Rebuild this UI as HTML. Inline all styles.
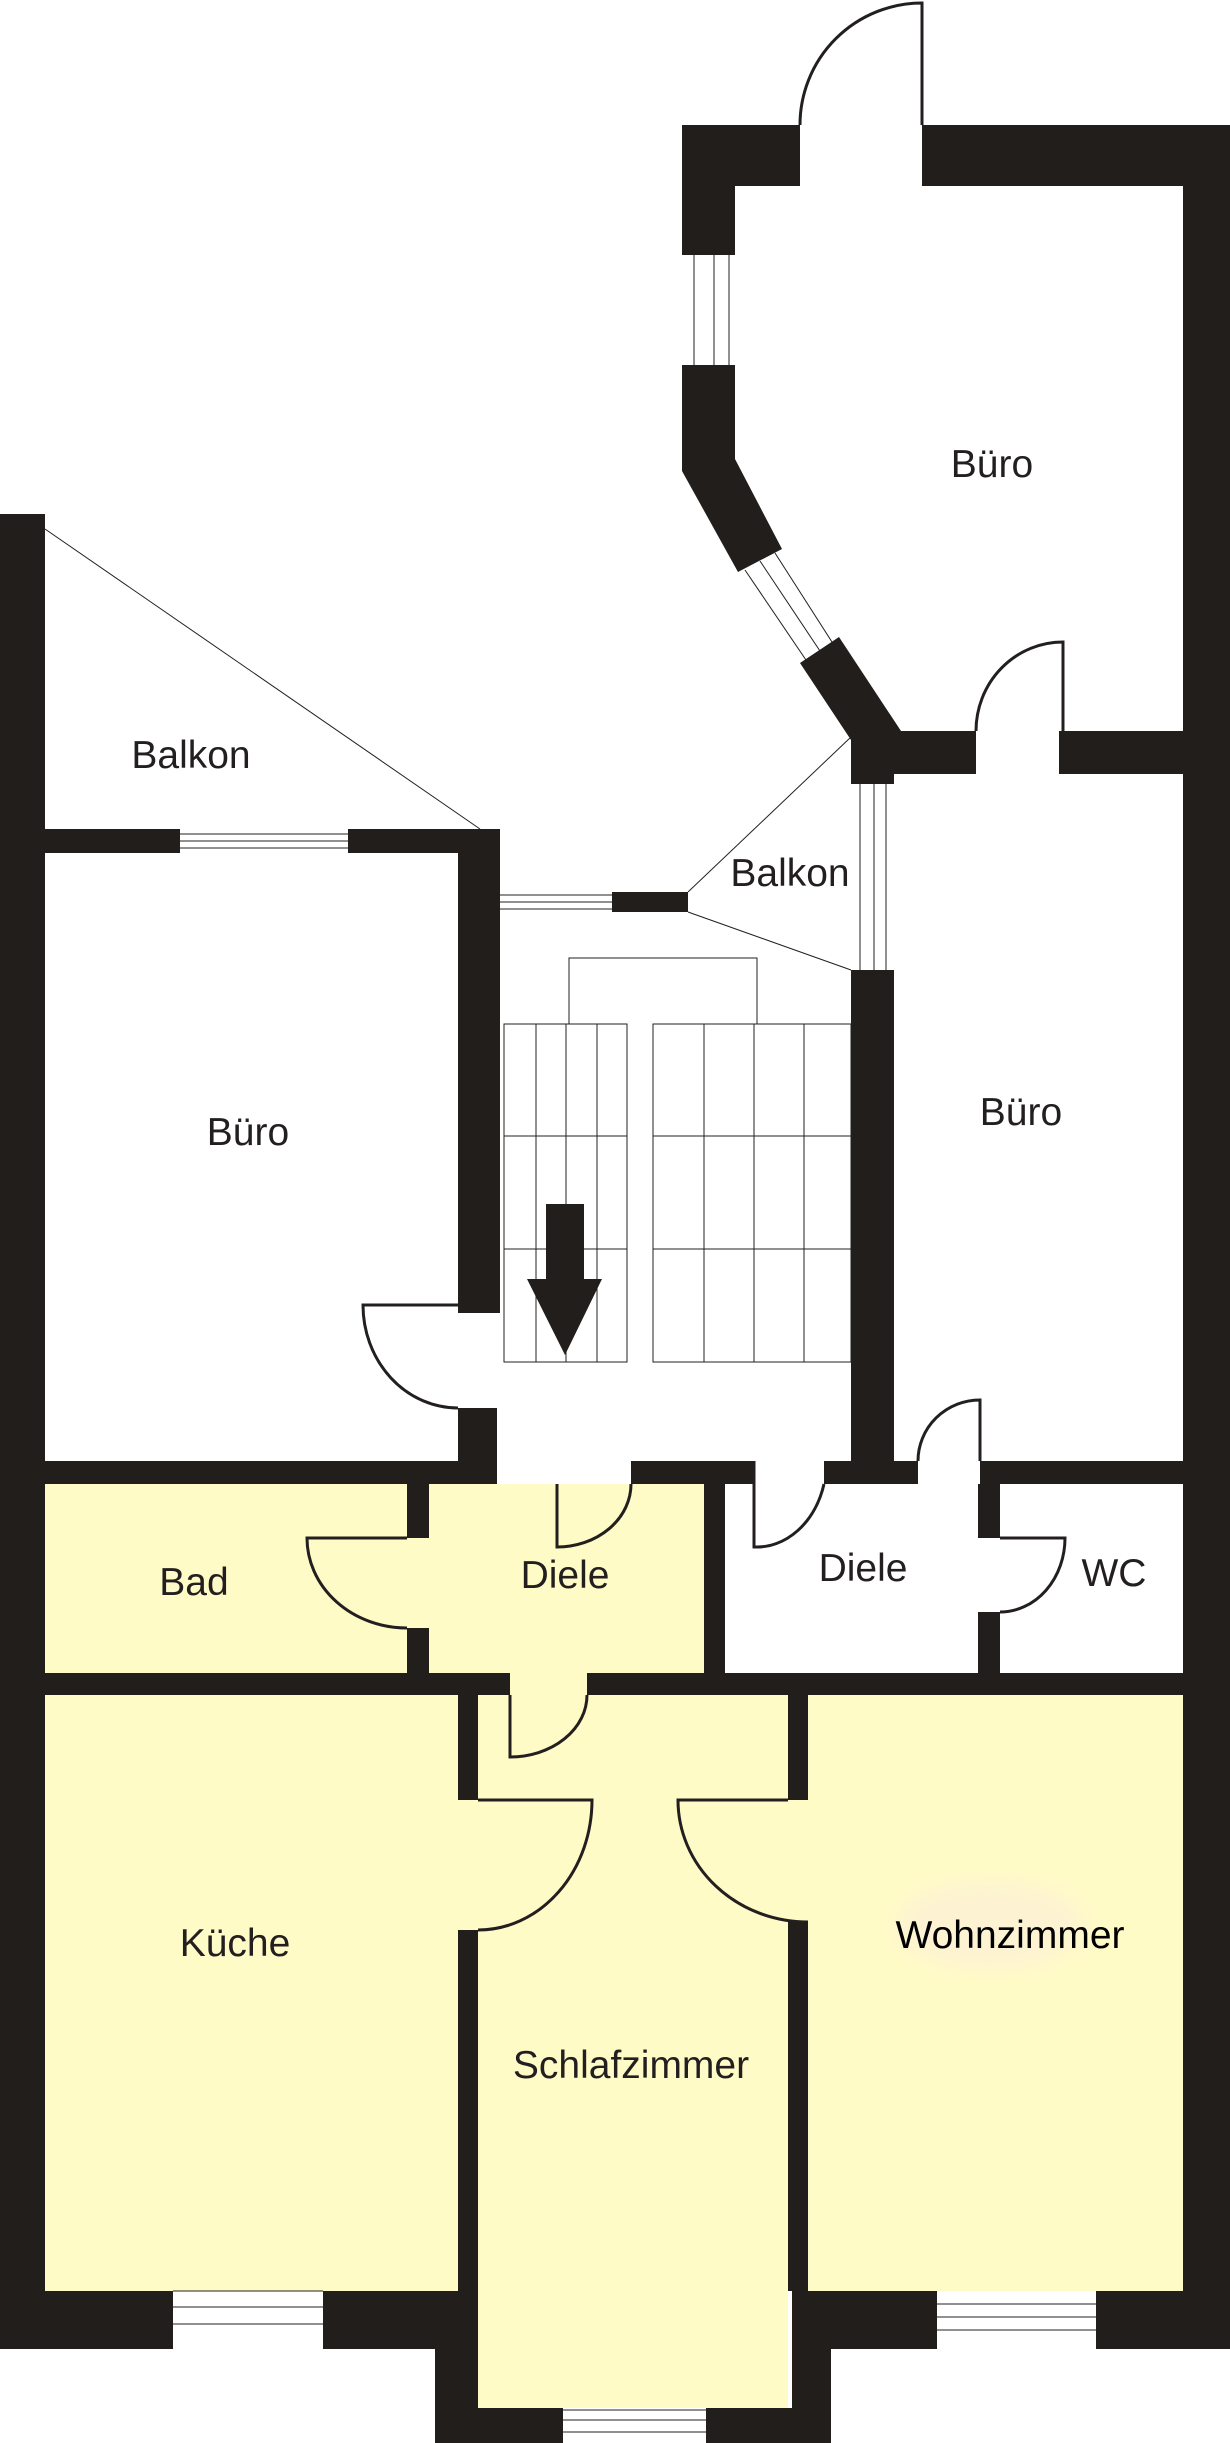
<!DOCTYPE html>
<html><head><meta charset="utf-8"><style>
html,body{margin:0;padding:0;background:#fff;}
svg{display:block}
text{font-family:"Liberation Sans",Arial,sans-serif;fill:#231f20;font-size:39px;text-anchor:middle;}
</style></head><body>
<svg width="1230" height="2443" viewBox="0 0 1230 2443" xmlns="http://www.w3.org/2000/svg">
<defs><filter id="bl"><feGaussianBlur stdDeviation="10"/></filter></defs>
<g fill="#fffbc6">
<rect x="45" y="1484" width="362" height="189"/>
<rect x="407" y="1484" width="297" height="189"/>
<rect x="45" y="1695" width="413" height="596"/>
<rect x="478" y="1695" width="310" height="713"/>
<rect x="808" y="1695" width="375" height="596"/>
<rect x="505" y="1670" width="87" height="30"/>
<rect x="455" y="1795" width="26" height="140"/>
<rect x="785" y="1795" width="26" height="132"/>
</g>
<ellipse cx="990" cy="1925" rx="95" ry="45" fill="#fdf3d2" filter="url(#bl)"/>

<g stroke="#231f20" stroke-width="1" fill="none">
<line x1="45" y1="529" x2="480" y2="829"/>
<line x1="688" y1="892" x2="851" y2="737"/>
<line x1="688" y1="912" x2="851" y2="970"/>
<polyline points="569,1024 569,958 757,958 757,1024"/>
<rect x="504" y="1024" width="123" height="338"/>
<line x1="536" y1="1024" x2="536" y2="1362"/><line x1="566" y1="1024" x2="566" y2="1362"/><line x1="597" y1="1024" x2="597" y2="1362"/>
<line x1="504" y1="1136" x2="627" y2="1136"/><line x1="504" y1="1249" x2="627" y2="1249"/>
<rect x="653" y="1024" width="198" height="338"/>
<line x1="704" y1="1024" x2="704" y2="1362"/><line x1="754" y1="1024" x2="754" y2="1362"/><line x1="804" y1="1024" x2="804" y2="1362"/>
<line x1="653" y1="1136" x2="851" y2="1136"/><line x1="653" y1="1249" x2="851" y2="1249"/>
<line x1="694" y1="255" x2="694" y2="365"/><line x1="714" y1="255" x2="714" y2="365"/><line x1="729" y1="255" x2="729" y2="365"/>
<line x1="745" y1="570" x2="806" y2="660"/><line x1="760" y1="561" x2="820" y2="651"/><line x1="775" y1="553" x2="832" y2="642"/>
<line x1="860" y1="784" x2="860" y2="970"/><line x1="874" y1="784" x2="874" y2="970"/><line x1="886" y1="784" x2="886" y2="970"/>
<line x1="180" y1="834" x2="348" y2="834"/><line x1="180" y1="841" x2="348" y2="841"/><line x1="180" y1="848" x2="348" y2="848"/>
<line x1="500" y1="895" x2="612" y2="895"/><line x1="500" y1="902" x2="612" y2="902"/><line x1="500" y1="909" x2="612" y2="909"/>
<line x1="173" y1="2291" x2="323" y2="2291"/><line x1="173" y1="2307" x2="323" y2="2307"/><line x1="173" y1="2324" x2="323" y2="2324"/>
<line x1="563" y1="2410" x2="706" y2="2410"/><line x1="563" y1="2420" x2="706" y2="2420"/><line x1="563" y1="2432" x2="706" y2="2432"/>
<line x1="937" y1="2304" x2="1096" y2="2304"/><line x1="937" y1="2317" x2="1096" y2="2317"/><line x1="937" y1="2330" x2="1096" y2="2330"/>
</g>

<g stroke="#231f20" stroke-width="3" fill="none">
<path d="M922,125 L922,3 A122,122 0 0 0 800,125"/>
<path d="M1063,731 L1063,642 A87,89 0 0 0 976,731"/>
<path d="M458,1305 L363,1305 A95,103 0 0 0 458,1408"/>
<path d="M557,1484 L557,1547 A74,63 0 0 0 631,1484"/>
<path d="M754,1461 L754,1547 A70,86 0 0 0 824,1484"/>
<path d="M980,1461 L980,1400 A62,61 0 0 0 918,1461"/>
<path d="M407,1538 L307,1538 A100,90 0 0 0 407,1628"/>
<path d="M1000,1538 L1065,1538 A65,74 0 0 1 1000,1612"/>
<path d="M510,1695 L510,1757 A77,62 0 0 0 587,1695"/>
<path d="M478,1800 L592,1800 A114,130 0 0 1 478,1930"/>
<path d="M788,1800 L678,1800 A130,122 0 0 0 808,1922"/>
</g>

<g fill="#221e1b">
<rect x="682" y="125" width="118" height="61"/>
<rect x="682" y="125" width="53" height="130"/>
<rect x="922" y="125" width="308" height="61"/>
<rect x="1183" y="125" width="47" height="2224"/>
<polygon points="682,365 735,365 735,459 782,549 738,572 682,471"/>
<polygon points="800,663 839,637 901,731 976,731 976,774 894,774 894,784 851,784 851,740"/>
<rect x="1059" y="731" width="125" height="43"/>
<rect x="0" y="514" width="45" height="1835"/>
<rect x="45" y="829" width="135" height="24"/>
<rect x="348" y="829" width="152" height="24"/>
<rect x="458" y="829" width="42" height="484"/>
<rect x="612" y="892" width="76" height="20"/>
<rect x="851" y="970" width="43" height="491"/>
<rect x="458" y="1408" width="39" height="76"/>
<rect x="0" y="1461" width="497" height="23"/>
<rect x="631" y="1461" width="123" height="23"/>
<rect x="824" y="1461" width="94" height="23"/>
<rect x="980" y="1461" width="250" height="23"/>
<rect x="704" y="1461" width="21" height="212"/>
<rect x="407" y="1484" width="22" height="54"/>
<rect x="407" y="1628" width="22" height="45"/>
<rect x="978" y="1484" width="22" height="54"/>
<rect x="978" y="1612" width="22" height="61"/>
<rect x="0" y="1673" width="510" height="22"/>
<rect x="587" y="1673" width="643" height="22"/>
<rect x="458" y="1695" width="20" height="105"/>
<rect x="458" y="1930" width="20" height="361"/>
<rect x="788" y="1695" width="20" height="105"/>
<rect x="788" y="1922" width="20" height="369"/>
<rect x="0" y="2291" width="173" height="58"/>
<rect x="323" y="2291" width="155" height="58"/>
<rect x="435" y="2291" width="43" height="152"/>
<rect x="435" y="2408" width="128" height="35"/>
<rect x="706" y="2408" width="125" height="35"/>
<rect x="792" y="2291" width="39" height="152"/>
<rect x="808" y="2291" width="129" height="58"/>
<rect x="1096" y="2291" width="134" height="58"/>
<rect x="546" y="1204" width="38" height="76"/>
<polygon points="527,1279 602,1279 565,1355"/>
</g>

<text x="992" y="477">Büro</text>
<text x="191" y="768">Balkon</text>
<text x="790" y="886">Balkon</text>
<text x="248" y="1145">Büro</text>
<text x="1021" y="1125">Büro</text>
<text x="194" y="1595">Bad</text>
<text x="565" y="1588">Diele</text>
<text x="863" y="1581">Diele</text>
<text x="1114" y="1586">WC</text>
<text x="235" y="1956">Küche</text>
<text x="631" y="2078">Schlafzimmer</text>
<text x="1010" y="1948" style="fill:#000">Wohnzimmer</text>
</svg>
</body></html>
